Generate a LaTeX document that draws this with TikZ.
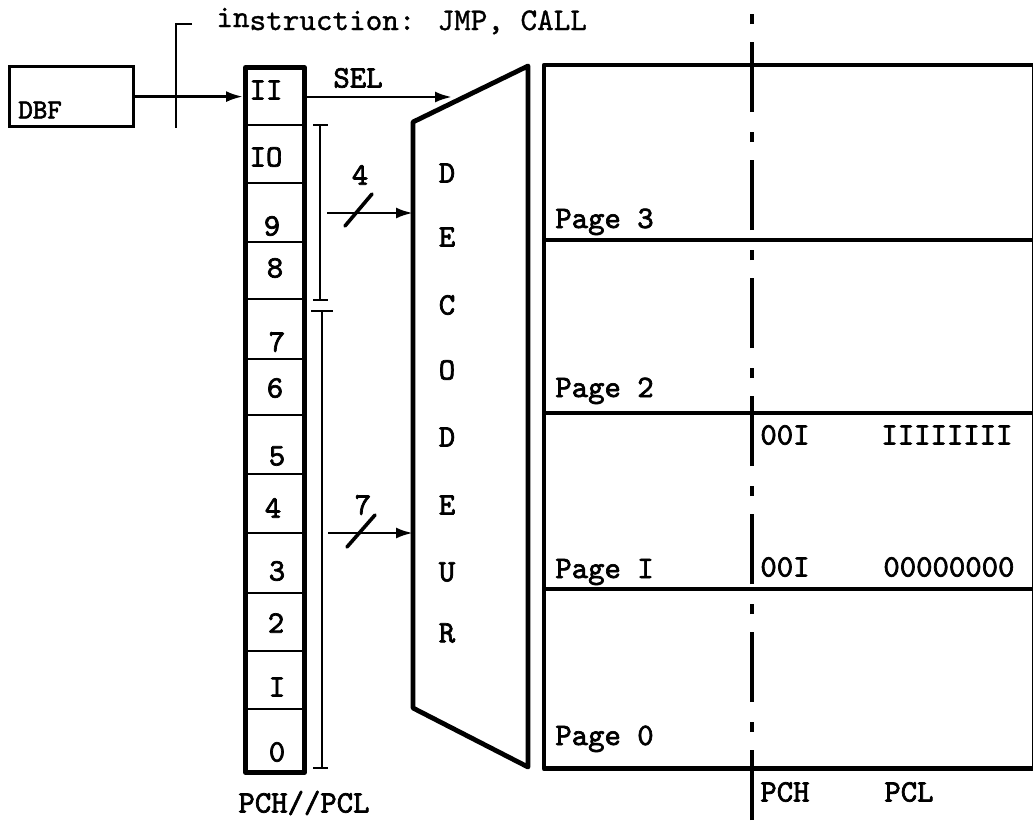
\documentclass[tikz,border=0pt]{standalone}
\usepackage{fontspec}
\usepackage{tikz}
\usetikzlibrary{arrows.meta,positioning,calc}
\newfontfamily\typer[Extension=.otf,FakeBold=2.2]{lmmono10-regular}
\newfontfamily\typerlight[Extension=.otf,FakeBold=1]{lmmono10-regular}

\begin{document}
\begin{tikzpicture}[
x=0.5pt,y=-0.5pt,
txt/.style={font=\typer\fontsize{15.6}{17}\selectfont,inner sep=0pt},
heavy/.style={line width=2.4pt,line join=round},
cell/.style={line width=1pt},
sep/.style={line width=1.8pt},
brk/.style={line width=1.4pt},
arr/.style={-{Latex[length=8.5pt,width=5.5pt]},line width=1.4pt},
slash/.style={line width=1.8pt,line cap=round}
]
\useasboundingbox (0,0) rectangle (1034,820);
\node[draw,line width=1.6pt,anchor=north west,minimum width=62pt,minimum height=30pt] (dbf) at (8,65) {};
\node[txt,anchor=west,font=\typer\fontsize{13.8}{15}\selectfont] (dbflbl) at (18,110) {DBF};
\node[draw,heavy,anchor=north west,minimum width=29.5pt,minimum height=352.5pt,inner sep=0pt] (reg) at (243,65) {};
\foreach \yy in {125,183,242,299,359,415,474,533,593,651,709}
  \draw[cell] (reg.west |- 0,\yy) -- (reg.east |- 0,\yy);
\foreach \lab/\xx/\yy [count=\k] in {II/266/90,IO/266/157,9/272/226,8/275/268,7/277/342,6/275/388,5/277/456,4/273/508,3/277/571,2/276/623,I/277/687,0/277/752}
  \node[txt] (bit\k) at (\xx,\yy) {\lab};
\node[txt] (pcw) at (304,803) {PCH//PCL};
\draw[arr] (dbf.east) -- (dbf.east -| reg.west);
\coordinate (ins) at (176,24);
\draw[brk] ($(ins)+(16,0)$) -- (ins) -- (ins |- dbf.south);
\node[txt,anchor=base west,font=\typerlight\fontsize{15.8}{17}\selectfont] (instr) at (216,30) {\raisebox{1.5pt}{in}struction: JMP, CALL};
\coordinate (dtl) at (413,122);
\coordinate (dtr) at (528,66);
\coordinate (dbr) at (528,767);
\coordinate (dbl) at (413,708);
\draw[heavy] (dtl) -- (dtr) -- (dbr) -- (dbl) -- cycle;
\foreach \ch/\yy [count=\k] in {D/173,E/237,C/305,O/370,D/437,E/505,U/572,R/633}
  \node[txt] (dec\k) at (447,\yy) {\ch};
\coordinate (selend) at (452,97);
\draw[arr] (reg.east |- selend) -- (selend);
\node[txt] (sel) at (358,78) {SEL};
\draw[brk] (313,125) -- (328,125) (320,125) -- (320,300) (313,300) -- (328,300);
\draw[brk] (311,311) -- (333,311) (322,311) -- (322,768) (313,768) -- (328,768);
\coordinate (hi) at (320,213);
\coordinate (lo) at (322,533);
\draw[arr] ($(hi)+(7,0)$) -- (hi -| dtl);
\draw[slash] (345,226) -- (372,194);
\node[txt] (w4) at (360,175) {4};
\draw[arr] ($(lo)+(6,0)$) -- (lo -| dtl);
\draw[slash] (347,547) -- (375,515);
\node[txt] (w7) at (363,505) {7};
\node[anchor=north west,minimum width=244pt,minimum height=351.5pt,inner sep=0pt] (mem) at (544,65) {};
\draw[heavy] (mem.north east) -- (mem.north west) -- (mem.south west) -- (mem.south east);
\draw[line width=0.5pt] (mem.north east) -- (mem.south east);
\foreach \yy in {240,413,589}
  \draw[sep] (mem.west |- 0,\yy) -- (mem.east |- 0,\yy);
\foreach \pg/\yy in {3/228,2/397,I/578,0/745}
  \node[txt,anchor=base west] (page\pg) at (555,\yy) {Page \pg};
\coordinate (axtop) at (752,14);
\coordinate (axbot) at (752,820);
\draw[line width=2pt,dash pattern=on 35pt off 9pt on 5pt off 10pt] (axbot) -- (axtop);
\node[txt,anchor=west] (hi2) at (760,435) {00I};
\node[txt,anchor=west] (lo2) at (881,435) {IIIIIIII};
\node[txt,anchor=west] (hi1) at (760,567) {00I};
\node[txt,anchor=west] (lo1) at (883,567) {00000000};
\node[txt,anchor=west] (pch) at (760,792) {PCH};
\node[txt,anchor=west] (pcl) at (884,792) {PCL};
\end{tikzpicture}
\end{document}
